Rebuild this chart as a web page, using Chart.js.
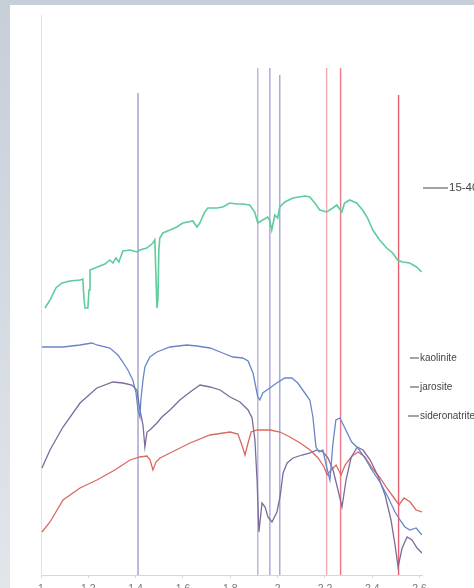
<!DOCTYPE html>
<html>
<head>
<meta charset="utf-8">
<script src="https://cdn.jsdelivr.net/npm/chart.js@4.4.1/dist/chart.umd.min.js"></script>
<style>
  html, body { margin: 0; padding: 0; background: #d3d9e0; }
  canvas { display: block; }
</style>
</head>
<body>
<canvas id="spectra" width="474" height="588"></canvas>
<script>
// Field spectrum 15-40 (wavelength in µm, relative reflectance)
const wl1540 = [1.017,1.038,1.063,1.089,1.122,1.165,1.177,1.182,1.186,1.198,1.203,1.207,1.249,1.270,1.291,1.304,1.317,1.329,1.346,1.376,1.405,1.418,1.447,1.473,1.481,1.485,1.490,1.494,1.498,1.502,1.515,1.545,1.574,1.599,1.642,1.659,1.671,1.692,1.705,1.743,1.768,1.798,1.827,1.853,1.882,1.903,1.916,1.937,1.958,1.966,1.975,1.988,2.000,2.009,2.030,2.064,2.115,2.136,2.157,2.178,2.207,2.233,2.250,2.271,2.283,2.304,2.334,2.359,2.380,2.402,2.431,2.461,2.486,2.507,2.528,2.558,2.587,2.608];
const refl1540 = [26.7,27.5,28.7,29.2,29.4,29.5,29.6,27.5,26.7,26.7,28.5,30.5,30.9,31.1,31.5,31.2,31.7,31.3,32.4,32.5,32.3,32.5,32.7,33.2,33.5,30.5,26.7,27.5,32.5,33.7,34.2,34.5,34.8,35.2,35.4,34.8,35.2,36.3,36.7,36.7,36.8,37.2,37.1,37.1,37.0,36.3,35.2,35.5,35.8,35.5,34.5,36.0,35.7,36.8,37.3,37.7,37.9,37.8,37.2,36.5,36.3,36.7,37.0,36.3,37.2,37.5,37.2,36.5,35.7,34.5,33.5,32.7,32.2,31.5,31.3,31.2,30.8,30.3];

// Library spectrum: kaolinite
const wlKaolinite = [1.004,1.093,1.165,1.215,1.236,1.291,1.325,1.346,1.367,1.388,1.401,1.410,1.418,1.422,1.431,1.439,1.460,1.490,1.545,1.616,1.659,1.714,1.768,1.811,1.853,1.875,1.896,1.916,1.925,1.937,1.967,1.996,2.030,2.060,2.085,2.115,2.136,2.149,2.162,2.175,2.191,2.208,2.221,2.233,2.246,2.263,2.284,2.313,2.339,2.369,2.398,2.432,2.466,2.496,2.517,2.538,2.559,2.585,2.610];
const reflKaolinite = [22.8,22.8,23.0,23.2,23.0,22.7,22.0,21.3,20.5,19.5,18.3,16.5,15.8,17.5,19.5,20.8,21.8,22.3,22.8,23.0,22.9,22.7,22.2,21.8,21.7,21.4,20.2,17.8,17.5,18.2,18.7,19.2,19.7,19.7,19.2,18.2,17.5,15.8,12.8,12.3,12.5,10.7,9.5,13.0,15.5,15.7,14.7,13.3,12.7,11.7,10.5,9.3,7.8,6.3,5.5,4.8,4.5,4.7,4.0];

// Library spectrum: jarosite
const wlJarosite = [1.004,1.038,1.093,1.165,1.236,1.304,1.346,1.384,1.405,1.418,1.431,1.439,1.448,1.460,1.473,1.490,1.511,1.545,1.587,1.630,1.672,1.714,1.757,1.799,1.841,1.875,1.892,1.904,1.913,1.921,1.934,1.947,1.959,1.976,1.997,2.010,2.023,2.040,2.065,2.103,2.137,2.166,2.192,2.213,2.234,2.255,2.272,2.289,2.310,2.336,2.361,2.391,2.424,2.454,2.479,2.496,2.509,2.526,2.547,2.568,2.589,2.610];
const reflJarosite = [10.7,12.5,14.8,17.2,18.7,19.3,19.2,19.0,18.5,16.5,15.0,12.8,14.3,14.5,14.8,15.2,15.8,16.5,17.5,18.3,19.0,18.8,18.5,17.8,17.3,16.5,15.7,13.5,9.5,4.3,7.2,6.8,5.8,5.3,6.3,7.8,10.2,11.2,11.7,12.0,12.2,12.5,12.3,11.7,10.5,8.5,6.8,9.5,11.7,12.8,12.5,11.5,9.9,8.0,5.5,3.0,0.8,2.7,3.8,3.5,2.7,2.2];

// Library spectrum: sideronatrite
const wlSideronatrite = [1.004,1.038,1.093,1.165,1.236,1.312,1.376,1.418,1.448,1.461,1.473,1.486,1.503,1.545,1.630,1.714,1.799,1.832,1.849,1.862,1.875,1.888,1.913,1.968,2.010,2.052,2.095,2.137,2.171,2.196,2.209,2.226,2.247,2.268,2.285,2.314,2.340,2.369,2.399,2.433,2.467,2.492,2.513,2.534,2.560,2.585,2.610];
const reflSideronatrite = [4.3,5.3,7.5,8.7,9.5,10.5,11.5,11.8,11.9,11.5,10.5,11.3,11.7,12.2,13.2,14.0,14.3,14.1,13.0,12.0,13.2,14.3,14.5,14.5,14.3,13.8,13.2,12.5,11.7,10.8,10.0,10.5,11.0,10.0,11.0,11.9,12.3,11.8,10.7,9.7,8.5,7.7,7.0,7.7,7.3,6.5,6.3];

// Absorption feature markers (µm) and the height each marker line reaches
const markerWavelengths = [1.410, 1.916, 1.967, 2.009, 2.207, 2.266, 2.511];
const markerTops = [48.2, 50.7, 50.7, 50.0, 50.7, 50.7, 48.0];

// Axis ticks
const xTickValues = [1.0, 1.2, 1.4, 1.6, 1.8, 2.0, 2.2, 2.4, 2.6];

// Styling
const markerColors = ['#9aa2c6', '#b9b2e0', '#a9a6da', '#9fa6de', '#f3aab3', '#e77a88', '#e66272'];

function toPoints(xs, ys) {
  return xs.map((x, i) => ({ x: x, y: ys[i] }));
}

const seriesDatasets = [
  { label: '15-40', data: toPoints(wl1540, refl1540), borderColor: '#5ecc9c', borderWidth: 1.6 },
  { label: 'kaolinite', data: toPoints(wlKaolinite, reflKaolinite), borderColor: '#6886c9', borderWidth: 1.3 },
  { label: 'jarosite', data: toPoints(wlJarosite, reflJarosite), borderColor: '#7d6a9c', borderWidth: 1.3 },
  { label: 'sideronatrite', data: toPoints(wlSideronatrite, reflSideronatrite), borderColor: '#d9695f', borderWidth: 1.3 }
].map(d => Object.assign(d, { pointRadius: 0, tension: 0, fill: false, order: 1 }));

const markerDatasets = markerWavelengths.map((w, i) => ({
  label: 'marker ' + w,
  data: [{ x: w, y: 0 }, { x: w, y: markerTops[i] }],
  borderColor: markerColors[i],
  borderWidth: 1.4,
  pointRadius: 0,
  fill: false,
  order: 5
}));

// Page frame behind the chart
const framePlugin = {
  id: 'frame',
  beforeDraw(chart) {
    const ctx = chart.ctx;
    const g = ctx.createLinearGradient(0, 0, 0, chart.height);
    g.addColorStop(0, '#c6ced8');
    g.addColorStop(1, '#e2e6eb');
    ctx.save();
    ctx.fillStyle = g;
    ctx.fillRect(0, 0, chart.width, chart.height);
    ctx.fillStyle = '#ffffff';
    ctx.fillRect(10, 5, chart.width - 10, chart.height - 5);
    ctx.restore();
  }
};

// Series labels placed beside the curves
const seriesLabelPlugin = {
  id: 'seriesLabels',
  afterDraw(chart, args, opts) {
    const ctx = chart.ctx;
    ctx.save();
    ctx.textBaseline = 'middle';
    opts.items.forEach(item => {
      const ds = chart.data.datasets.find(d => d.label === item.label);
      if (!ds) return;
      ctx.font = item.size + 'px "Liberation Sans", Arial, sans-serif';
      ctx.strokeStyle = '#666';
      ctx.lineWidth = 1.2;
      ctx.beginPath();
      ctx.moveTo(item.x, item.y);
      ctx.lineTo(item.x + item.len, item.y);
      ctx.stroke();
      ctx.fillStyle = '#444';
      ctx.fillText(ds.label, item.x + item.len + 1, item.y);
    });
    ctx.restore();
  }
};

new Chart(document.getElementById('spectra'), {
  type: 'line',
  data: { datasets: markerDatasets.concat(seriesDatasets) },
  plugins: [framePlugin, seriesLabelPlugin],
  options: {
    responsive: false,
    animation: false,
    layout: { padding: { left: 0, top: 15, right: 52, bottom: 0 } },
    plugins: {
      legend: { display: false },
      tooltip: { enabled: false },
      seriesLabels: {
        items: [
          { label: '15-40', x: 423, y: 188, len: 25, size: 11.5 },
          { label: 'kaolinite', x: 410, y: 358, len: 9, size: 10 },
          { label: 'jarosite', x: 410, y: 387, len: 9, size: 10 },
          { label: 'sideronatrite', x: 408, y: 416, len: 11, size: 10 }
        ]
      }
    },
    scales: {
      x: {
        type: 'linear',
        min: 1.0,
        max: 2.61,
        afterFit(scale) { scale.height = 13; },
        afterBuildTicks(scale) {
          scale.ticks = xTickValues.map(v => ({ value: v }));
        },
        grid: { drawOnChartArea: false, drawTicks: true, tickLength: 3, color: '#d6d6d6' },
        border: { color: '#d6d6d6', width: 1 },
        ticks: {
          padding: 5,
          color: '#777',
          font: { size: 10.5, family: '"Liberation Sans", Arial, sans-serif' },
          maxRotation: 0,
          callback: v => String(Number(v.toFixed(1)))
        }
      },
      y: {
        type: 'linear',
        min: 0,
        max: 56,
        afterFit(scale) { scale.width = 41; },
        grid: { display: false },
        border: { color: '#e2e2e2', width: 1 },
        ticks: { display: false }
      }
    }
  }
});
</script>
</body>
</html>
